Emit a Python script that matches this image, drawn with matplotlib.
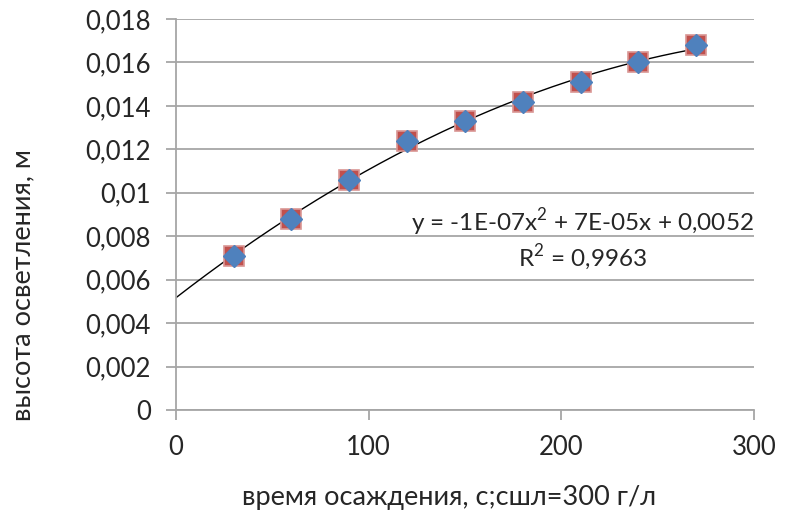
import numpy as np
import matplotlib.pyplot as plt
from matplotlib.ticker import FuncFormatter

# время осаждения, с
t = [30, 60, 90, 120, 150, 180, 210, 240, 270]
# высота осветления, м
h = [0.0071, 0.0088, 0.0106, 0.0124, 0.0133, 0.0142, 0.0151, 0.0160, 0.0168]

eq_text = 'y = -1E-07x$^2$ + 7E-05x + 0,0052'
r2_text = 'R$^2$ = 0,9963'

plt.rcParams['font.family'] = ['Lato', 'DejaVu Sans']
plt.rcParams['mathtext.fontset'] = 'custom'
plt.rcParams['mathtext.rm'] = 'Lato'

txt = '#262626'

fig = plt.figure(figsize=(7.88, 5.13), dpi=100)
ax = fig.add_axes([0.223, 0.2008, 0.734, 0.7622])

# trend line (2nd order polynomial)
coef = np.polyfit(t, h, 2)
xs = np.linspace(0, max(t), 200)
ax.plot(xs, np.polyval(coef, xs), color='black', lw=1.0, zorder=2)

ax.plot(t, h, 's', ms=15, color='#C0504D', mec='#D99694', mew=1.2, zorder=3)
ax.plot(t, h, 'D', ms=11, color='#4F81BD', mec='#4F81BD', zorder=4)

ax.set_xlim(0, 300)
ax.set_ylim(0, 0.018)
ax.set_xticks([0, 100, 200, 300])
ax.set_yticks(np.arange(0, 0.0181, 0.002))
fmt = FuncFormatter(lambda v, p: ('%g' % round(v, 4)).replace('.', ','))
ax.yaxis.set_major_formatter(fmt)

ax.grid(axis='y', color='#A6A6A6', lw=1.3)
ax.set_axisbelow(True)
for s in ['top', 'right']:
    ax.spines[s].set_visible(False)
for s in ['left', 'bottom']:
    ax.spines[s].set_color('#A6A6A6')
    ax.spines[s].set_linewidth(1.3)
ax.tick_params(colors='#A6A6A6', length=7, width=1.3, labelcolor=txt,
               labelsize=18.5)
ax.tick_params(axis='x', pad=11)
ax.tick_params(axis='y', pad=11)

ax.text(1.0, 0.481, eq_text, transform=ax.transAxes, ha='right', va='center',
        fontsize=17.5, color=txt)
ax.text(0.704, 0.389, r2_text, transform=ax.transAxes, ha='center', va='center',
        fontsize=17.5, color=txt)

ax.set_xlabel('время осаждения, с;сшл=300 г/л', fontsize=19.5, color=txt,
              va='center')
ax.xaxis.set_label_coords(0.473, -0.225)
ax.set_ylabel('высота осветления, м', fontsize=19.5, color=txt, va='center')
ax.yaxis.set_label_coords(-0.265, 0.32)

fig.savefig('out.png', dpi=100)
